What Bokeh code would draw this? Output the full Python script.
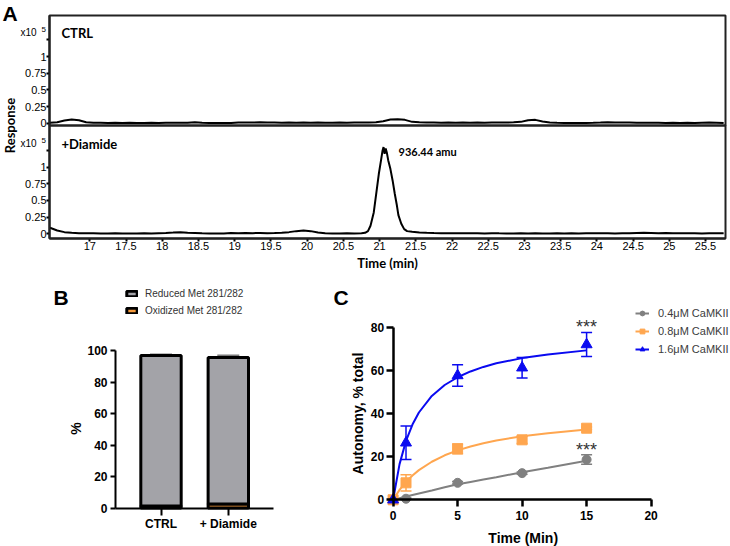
from math import pi
from bokeh.plotting import figure
from bokeh.layouts import column, row
from bokeh.models import (Range1d, FixedTicker, Label, Legend, LegendItem,
                          Whisker, TeeHead, ColumnDataSource, BoxAnnotation)
from bokeh.embed import file_html
from bokeh.resources import INLINE

# ====================== DATA ======================
# Panel A: chromatogram traces (response, x10^5), baseline sampled every 0.1 min
CTRL_START = 16.45
CTRL_RESPONSE = [
    0.005, 0.015, 0.04, 0.055, 0.045, 0.015, 0.008, 0.006, 0.004, 0.007,
    0.003, 0.006, 0.002, 0.004, 0.006, 0.003, 0.007, 0.005, 0.008, 0.006,
    0.016, 0.007, 0.004, 0.002, 0.004, 0.003, 0.009, 0.012, 0.010, 0.013,
    0.009, 0.011, 0.008, 0.010, 0.007, 0.009, 0.006, 0.010, 0.008, 0.005,
    0.009, 0.007, 0.010, 0.012, 0.010, 0.015, 0.030, 0.055, 0.060, 0.050,
    0.020, 0.014, 0.010, 0.012, 0.008, 0.010, 0.007, 0.009, 0.006, 0.010,
    0.008, 0.011, 0.012, 0.009, 0.014, 0.020, 0.045, 0.050, 0.025, 0.010,
    0.005, 0.003, 0.002, 0.004, 0.003, 0.006, 0.010, 0.015, 0.012, 0.009,
    0.010, 0.007, 0.008, 0.005, 0.007, 0.004, 0.006, 0.003, 0.005, 0.003,
    0.007, 0.010, 0.008, 0.004,
]
DIAMIDE_START_1 = 16.45
DIAMIDE_RESPONSE_1 = [
    0.09, 0.05, 0.025, 0.015, 0.010, 0.008, 0.010, 0.006, 0.005, 0.007,
    0.004, 0.006, 0.005, 0.008, 0.006, 0.010, 0.012, 0.018, 0.025, 0.015,
    0.012, 0.008, 0.006, 0.004, 0.005, 0.012, 0.010, 0.013, 0.010, 0.012,
    0.009, 0.011, 0.015, 0.025, 0.040, 0.050, 0.040, 0.020, 0.010, 0.006,
    0.005, 0.007, 0.006, 0.010,
]
DIAMIDE_PEAK_TIME = [20.80, 20.84, 20.875, 20.92, 20.96, 20.99, 21.02, 21.04,
                     21.055, 21.07, 21.085, 21.10, 21.12, 21.15, 21.18, 21.21,
                     21.24, 21.26, 21.30, 21.34, 21.38]
DIAMIDE_PEAK_RESPONSE = [0.015, 0.04, 0.12, 0.32, 0.65, 0.90, 1.10, 1.24,
                         1.30, 1.20, 1.28, 1.22, 1.10, 0.97, 0.80, 0.60,
                         0.42, 0.28, 0.15, 0.07, 0.04]
DIAMIDE_START_2 = 21.45
DIAMIDE_RESPONSE_2 = [
    0.030, 0.020, 0.015, 0.012, 0.010, 0.008, 0.009, 0.007, 0.010, 0.008,
    0.006, 0.009, 0.007, 0.006, 0.004, 0.007, 0.005, 0.008, 0.006, 0.004,
    0.007, 0.005, 0.008, 0.006, 0.009, 0.007, 0.010, 0.008, 0.006, 0.009,
    0.007, 0.012, 0.015, 0.013, 0.010, 0.012, 0.009, 0.007, 0.010, 0.008,
    0.006, 0.009, 0.007, 0.010,
]
A_XTICKS = [17, 17.5, 18, 18.5, 19, 19.5, 20, 20.5, 21, 21.5, 22, 22.5,
            23, 23.5, 24, 24.5, 25, 25.5]
A_YTICKS = [0, 0.25, 0.5, 0.75, 1, 1.25]
A_YTICK_LABELS = ["0", "0.25", "0.5", "0.75", "1", ""]

# Panel B: stacked bars
B_CATEGORIES = ["CTRL", "+ Diamide"]
B_SERIES = ["Reduced Met 281/282", "Oxidized Met 281/282"]
B_OXIDIZED = [1.3, 2.5]
B_OXIDIZED_ERR = [0.7, 0.9]
B_REDUCED = [95.5, 93.1]
B_REDUCED_ERR = [0.7, 1.2]
B_YTICKS = [0, 20, 40, 60, 80, 100]

# Panel C: autonomy time course
C_SERIES = ["0.4\u03bcM CaMKII", "0.8\u03bcM CaMKII", "1.6\u03bcM CaMKII"]
C_TIME = [0, 1, 5, 10, 15]
C_AUT_04 = [0, 0.5, 7.9, 12.4, 18.7]
C_ERR_04 = [0, 0.3, 0.6, 0.5, 2.2]
C_AUT_08 = [0, 7.9, 23.7, 27.9, 33.3]
C_ERR_08 = [0, 3.8, 2.3, 1.7, 0.6]
C_AUT_16 = [0, 26.5, 57.8, 61.4, 72.2]
C_ERR_16 = [0, 7.8, 5.0, 4.8, 5.6]
C_FIT_TIME = [0, 0.5, 1, 1.5, 2, 3, 4, 5, 6, 7, 8, 10, 12, 15]
C_FIT_04 = [0, 0.75, 1.5, 2.2, 2.9, 4.3, 5.8, 7.2, 8.3, 9.4, 10.5, 12.8, 14.9, 18.2]
C_FIT_08 = [0, 4.6, 8.3, 11.3, 13.8, 17.7, 20.7, 23.0, 24.8, 26.3, 27.6, 29.6, 31.0, 32.7]
C_FIT_16 = [0, 16.6, 27.4, 35.0, 40.6, 48.3, 53.4, 57.0, 59.7, 61.8, 63.5, 65.9, 67.6, 69.5]
C_XTICKS = [0, 5, 10, 15, 20]
C_YTICKS = [0, 20, 40, 60, 80]

# ====================== STYLE ======================
ARIAL = "Liberation Sans"
CAL = "Lato"
GRAY_B = "#A3A3A8"
ORANGE_B = "#F59A3C"
WHISK_B = "#7A7A7A"
GRAY_C = "#808080"
ORANGE_C = "#FFA64F"
BLUE_C = "#0A0AF0"


def lab(p, text, x, y, size, bold=True, font=ARIAL, align="left",
        base="middle", angle=0.0, color="black", yr="default"):
    p.add_layout(Label(x=x, y=y, text=text, text_font=font,
                       text_font_size=f"{size}px",
                       text_font_style="bold" if bold else "normal",
                       text_align=align, text_baseline=base, angle=angle,
                       text_color=color, y_range_name=yr))


def style_axis(ax, width, tick_out, standoff, size, bold, loc, bounds, font=ARIAL):
    ax.fixed_location = loc
    ax.bounds = bounds
    ax.axis_line_width = width
    ax.axis_line_color = "black"
    ax.major_tick_line_width = width
    ax.major_tick_line_color = "black"
    ax.major_tick_out = tick_out
    ax.major_tick_in = 0
    ax.minor_tick_line_color = None
    ax.major_label_standoff = standoff
    ax.major_label_text_font = font
    ax.major_label_text_font_size = f"{size}px"
    ax.major_label_text_font_style = "bold" if bold else "normal"
    ax.major_label_text_color = "black"


def base_fig(w, h, xr, yr):
    p = figure(width=w, height=h, x_range=Range1d(*xr), y_range=Range1d(*yr),
               min_border=0, min_border_left=0, min_border_right=0,
               min_border_top=0, min_border_bottom=0,
               output_backend="svg", toolbar_location=None)
    p.grid.visible = False
    p.outline_line_color = None
    p.background_fill_color = "white"
    p.border_fill_color = "white"
    return p


# ====================== PANEL A (page y 0..270) ======================
AW, AH = 730, 270
SXA, SYA = 72.44, 66.7
XA0 = 17 - 89.3 / SXA
YA0 = -(AH - 233.3) / SYA
def axp(px): return XA0 + px / SXA
def ayp(py): return YA0 + (AH - py) / SYA
OFF = ayp(122.7)              # zero of the CTRL trace in diamide units
A_LEFT, A_RIGHT = axp(49), axp(725)
A_BOT, A_TOP, A_DIV = ayp(238), ayp(15), ayp(125)

pA = base_fig(AW, AH, (XA0, XA0 + AW / SXA), (YA0, YA0 + AH / SYA))
pA.extra_y_ranges = {"ctrl": Range1d(YA0 - OFF, YA0 + AH / SYA - OFF)}

ctrl_t = [round(CTRL_START + 0.1 * i, 2) for i in range(len(CTRL_RESPONSE))]
d1_t = [round(DIAMIDE_START_1 + 0.1 * i, 2) for i in range(len(DIAMIDE_RESPONSE_1))]
d2_t = [round(DIAMIDE_START_2 + 0.1 * i, 2) for i in range(len(DIAMIDE_RESPONSE_2))]
dia_t = d1_t + DIAMIDE_PEAK_TIME + d2_t
dia_v = DIAMIDE_RESPONSE_1 + DIAMIDE_PEAK_RESPONSE + DIAMIDE_RESPONSE_2

pA.line(ctrl_t, CTRL_RESPONSE, y_range_name="ctrl", line_color="black", line_width=2)
pA.line(dia_t, dia_v, line_color="black", line_width=2)
for b, t in ((A_BOT, A_DIV), (A_DIV, A_TOP)):
    pA.add_layout(BoxAnnotation(left=A_LEFT, right=A_RIGHT, bottom=b, top=t,
                                fill_color=None, fill_alpha=0, line_color="#222222",
                                line_alpha=1.0, line_width=2))

ytk = list(A_YTICKS) + [OFF + v for v in A_YTICKS]
ylb = list(A_YTICK_LABELS) * 2
pA.yaxis.ticker = FixedTicker(ticks=ytk)
pA.yaxis.major_label_overrides = {t: l for t, l in zip(ytk, ylb)}
pA.xaxis.ticker = FixedTicker(ticks=A_XTICKS)
pA.xaxis.major_label_overrides = {t: ("%g" % t) for t in A_XTICKS}
style_axis(pA.xaxis[0], 2, 3, 0, 11, False, A_BOT, (A_LEFT, A_RIGHT))
style_axis(pA.yaxis[0], 2, 3, 0, 11, False, A_LEFT, (A_BOT, A_TOP))

lab(pA, "A", axp(2), ayp(12.5), 21)
lab(pA, "x10", axp(20), ayp(32), 10, bold=False)
lab(pA, "5", axp(41), ayp(28.5), 8, bold=False)
lab(pA, "x10", axp(20), ayp(143), 10, bold=False)
lab(pA, "5", axp(41), ayp(139.5), 8, bold=False)
lab(pA, "CTRL", axp(61), ayp(32.5), 13, font=CAL)
lab(pA, "+Diamide", axp(61), ayp(143.3), 13, font=CAL)
lab(pA, "936.44 amu", axp(398), ayp(151), 11, font=CAL)
lab(pA, "Response", axp(9), ayp(125), 13, font=CAL, align="center", angle=pi / 2)
lab(pA, "Time (min)", axp(387), ayp(262), 13, font=CAL, align="center")

# ====================== PANEL B (page x 0..300, y 270..546) ======================
BW, BH = 300, 276
SXB, SYB = 67.3, 1.575
XB0 = 1 - 160.5 / SXB
YB0 = -(546 - 507.5) / SYB
def bxp(px): return XB0 + px / SXB
def byp(py): return YB0 + (546 - py) / SYB
B_LEFT, B_RIGHT = bxp(115), bxp(273)

pB = base_fig(BW, BH, (XB0, XB0 + BW / SXB), (YB0, YB0 + BH / SYB))
xpos = [i + 1 for i in range(len(B_CATEGORIES))]
srcB = ColumnDataSource(dict(x=xpos, ox=B_OXIDIZED, red=B_REDUCED))
r_ox, r_red = pB.vbar_stack(["ox", "red"], x="x", width=0.6, source=srcB,
                            fill_color=[ORANGE_B, GRAY_B], line_color="black",
                            line_width=3)
tops = [o + r for o, r in zip(B_OXIDIZED, B_REDUCED)]
wsrc1 = ColumnDataSource(dict(x=xpos, lo=tops, hi=[t + e for t, e in zip(tops, B_REDUCED_ERR)]))
wsrc2 = ColumnDataSource(dict(x=xpos, lo=B_OXIDIZED, hi=[o + e for o, e in zip(B_OXIDIZED, B_OXIDIZED_ERR)]))
for ws in (wsrc1, wsrc2):
    pB.add_layout(Whisker(source=ws, base="x", lower="lo", upper="hi",
                          line_color=WHISK_B, line_width=1.5, lower_head=None,
                          upper_head=TeeHead(size=22, line_color=WHISK_B, line_width=2)))
pB.yaxis.ticker = FixedTicker(ticks=B_YTICKS)
pB.xaxis.ticker = FixedTicker(ticks=xpos)
pB.xaxis.major_label_overrides = {x: c for x, c in zip(xpos, B_CATEGORIES)}
style_axis(pB.xaxis[0], 2, 7, 2, 12, True, 0, (B_LEFT, B_RIGHT))
style_axis(pB.yaxis[0], 2, 5, 3, 12, True, B_LEFT, (0, 100))
legB = Legend(items=[LegendItem(label=B_SERIES[0], renderers=[r_red]),
                     LegendItem(label=B_SERIES[1], renderers=[r_ox])],
              location=(125, 546 - 316), border_line_color=None, background_fill_alpha=0,
              padding=0, margin=0, spacing=5, glyph_width=13, glyph_height=7,
              label_standoff=7, label_height=12, label_text_font=ARIAL,
              label_text_font_size="10px", label_text_color="#333333")
pB.add_layout(legB)
lab(pB, "B", bxp(53), byp(297), 21)
lab(pB, "%", bxp(75), byp(428), 14, align="center", angle=pi / 2)

# ====================== PANEL C (page x 300..730, y 270..546) ======================
CW, CH = 430, 276
SXC, SYC = 12.9, 2.15
XC0 = -(392.6 - 300) / SXC
YC0 = -(546 - 499.3) / SYC
def cxp(px): return XC0 + (px - 300) / SXC
def cyp(py): return YC0 + (546 - py) / SYC

pC = base_fig(CW, CH, (XC0, XC0 + CW / SXC), (YC0, YC0 + CH / SYC))
series = [(C_AUT_04, C_ERR_04, C_FIT_04, GRAY_C, "circle", 9),
          (C_AUT_08, C_ERR_08, C_FIT_08, ORANGE_C, "square", 10),
          (C_AUT_16, C_ERR_16, C_FIT_16, BLUE_C, "triangle", 11)]
itemsC = []
for name, (aut, err, fit, col, mk, sz) in zip(C_SERIES, series):
    ln = pC.line(C_FIT_TIME, fit, line_color=col, line_width=2)
    sc = pC.scatter(C_TIME, aut, marker=mk, size=sz, fill_color=col, line_color=col)
    t_e = [t for t, e in zip(C_TIME, err) if e > 0]
    a_e = [a for a, e in zip(aut, err) if e > 0]
    e_e = [e for e in err if e > 0]
    ws = ColumnDataSource(dict(x=t_e, lo=[a - e for a, e in zip(a_e, e_e)],
                               hi=[a + e for a, e in zip(a_e, e_e)]))
    pC.add_layout(Whisker(source=ws, base="x", lower="lo", upper="hi",
                          line_color=col, line_width=1.5,
                          lower_head=TeeHead(size=11, line_color=col, line_width=1.5),
                          upper_head=TeeHead(size=11, line_color=col, line_width=1.5)))
    itemsC.append(LegendItem(label=name, renderers=[ln, sc]))

pC.xaxis.ticker = FixedTicker(ticks=C_XTICKS)
pC.yaxis.ticker = FixedTicker(ticks=C_YTICKS)
style_axis(pC.xaxis[0], 2.5, 7, 4, 12, True, 0, (0, 20))
style_axis(pC.yaxis[0], 2.5, 7, 2, 12, True, 0, (0, 80))
legC = Legend(items=itemsC, location=(635 - 300, 546 - 355), border_line_color=None,
              background_fill_alpha=0, padding=0, margin=0, spacing=6,
              glyph_width=14, glyph_height=12, label_standoff=9, label_height=12,
              label_text_font=ARIAL, label_text_font_size="11px",
              label_text_color="#3C3C3C")
pC.add_layout(legC)
lab(pC, "C", cxp(333), cyp(297), 21)
lab(pC, "***", cxp(586), cyp(326.7), 18, bold=False, align="center", color="#333333")
lab(pC, "***", cxp(586), cyp(449.7), 18, bold=False, align="center", color="#333333")
lab(pC, "Autonomy, % total", cxp(357), cyp(413), 14, align="center", angle=pi / 2)
lab(pC, "Time (Min)", cxp(522.7), cyp(537), 14, align="center")

layout = column(pA, row(pB, pC))
open("out.html", "w").write(file_html(layout, INLINE))
